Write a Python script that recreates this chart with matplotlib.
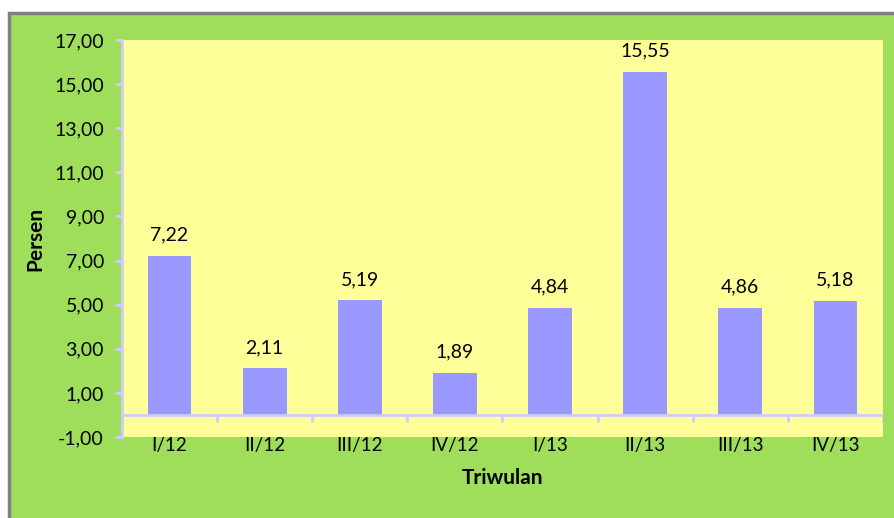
import matplotlib
matplotlib.use("Agg")
import matplotlib.pyplot as plt
from matplotlib.patches import Rectangle

# data
triwulan = ["I/12", "II/12", "III/12", "IV/12", "I/13", "II/13", "III/13", "IV/13"]
persen = [7.22, 2.11, 5.19, 1.89, 4.84, 15.55, 4.86, 5.18]
yticks = [-1, 1, 3, 5, 7, 9, 11, 13, 15, 17]

GREEN = "#9fde5b"
YELLOW = "#ffff99"
BAR = "#9999ff"
AXIS = "#ccccff"

plt.rcParams["font.family"] = ["Lato", "DejaVu Sans"]

fig = plt.figure(figsize=(8.95, 5.18), dpi=100)
fig.patch.set_facecolor("white")

# green chart area with gray border on left/top (runs off the right/bottom edges)
fig.patches.append(Rectangle((9 / 895, -0.1), 1.1, 1.1 - 13 / 518, transform=fig.transFigure,
                             facecolor=GREEN, edgecolor="#808080", linewidth=2.5, zorder=-5))

ax = fig.add_axes([122 / 895, 1 - 437 / 518, (883 - 122) / 895, (437 - 40) / 518])
ax.set_facecolor(YELLOW)

x = list(range(len(triwulan)))
ax.bar(x, persen, width=0.46, color=BAR, zorder=2)

for xi, v in zip(x, persen):
    ax.annotate(f"{v:.2f}".replace(".", ","), (xi, v), xytext=(0, 9), textcoords="offset points",
                ha="center", va="bottom", fontsize=14)

ax.set_xlim(-0.5, len(triwulan) - 0.5)
ax.set_ylim(-1, 17)
ax.set_yticks(yticks)
ax.set_yticklabels([f"{t:.2f}".replace(".", ",") for t in yticks], fontsize=14)
ax.set_xticks(x)
ax.set_xticklabels(triwulan, fontsize=13.5)
ax.tick_params(axis="x", length=0, pad=0)
ax.tick_params(axis="y", length=5, width=2, color=AXIS, pad=8)

for s in ["top", "right", "bottom"]:
    ax.spines[s].set_visible(False)
ax.spines["left"].set_color(AXIS)
ax.spines["left"].set_linewidth(2)

# category axis at zero with tick marks between categories
ax.axhline(0, color=AXIS, linewidth=2, zorder=3)
ax.vlines([i + 0.5 for i in range(-1, len(triwulan))], -0.3, 0, color=AXIS, linewidth=2, zorder=3)

ax.set_ylabel("Persen", fontsize=15, fontweight="bold", labelpad=6)
ax.set_xlabel("Triwulan", fontsize=15, fontweight="bold", labelpad=10)

fig.savefig("out.png", dpi=100, facecolor=fig.get_facecolor())
